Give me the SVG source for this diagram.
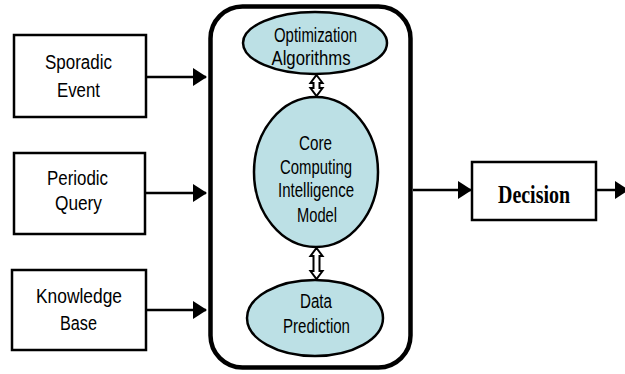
<svg xmlns="http://www.w3.org/2000/svg" width="625" height="374" viewBox="0 0 625 374">
  <defs>
    <marker id="head" markerWidth="14" markerHeight="18" refX="13" refY="9" orient="auto" markerUnits="userSpaceOnUse">
      <path d="M0,0 L14,9 L0,18 Z" fill="#000"/>
    </marker>
    <style>
      .box { fill: #fff; stroke: #000; stroke-width: 2.5; }
      .bubble { fill: #bce0e5; stroke: #000; stroke-width: 2.5; }
      .lbl { font-family: "Liberation Sans", Arial, sans-serif; font-size: 20px; fill: #000; text-anchor: middle; }
      .edge { stroke: #000; stroke-width: 2.5; fill: none; marker-end: url(#head); }
      .dbl { fill: #fff; stroke: #000; stroke-width: 2; stroke-linejoin: miter; }
    </style>
  </defs>
  <rect width="625" height="374" fill="#fff"/>

  <!-- input sources -->
  <g id="sporadic">
    <rect class="box" x="14" y="35" width="132" height="82"/>
    <text class="lbl" x="78.5" y="69" textLength="67" lengthAdjust="spacingAndGlyphs">Sporadic</text>
    <text class="lbl" x="78.5" y="97" textLength="43" lengthAdjust="spacingAndGlyphs">Event</text>
  </g>
  <g id="periodic">
    <rect class="box" x="14" y="153" width="131" height="81"/>
    <text class="lbl" x="77.5" y="185" textLength="61" lengthAdjust="spacingAndGlyphs">Periodic</text>
    <text class="lbl" x="78.5" y="210" textLength="47" lengthAdjust="spacingAndGlyphs">Query</text>
  </g>
  <g id="knowledge">
    <rect class="box" x="12" y="270" width="134" height="80"/>
    <text class="lbl" x="79" y="303" textLength="86" lengthAdjust="spacingAndGlyphs">Knowledge</text>
    <text class="lbl" x="78.5" y="330" textLength="37" lengthAdjust="spacingAndGlyphs">Base</text>
  </g>

  <!-- processing container -->
  <g id="engine">
    <rect x="210.5" y="6.5" width="200" height="361" rx="32" ry="32" fill="#fff" stroke="#000" stroke-width="4.5"/>
  </g>
  <g id="optimization">
    <ellipse class="bubble" cx="315" cy="43" rx="72" ry="31"/>
    <text class="lbl" x="315.5" y="42" textLength="83" lengthAdjust="spacingAndGlyphs">Optimization</text>
    <text class="lbl" x="311" y="65" textLength="79" lengthAdjust="spacingAndGlyphs">Algorithms</text>
  </g>
  <g id="core">
    <ellipse class="bubble" cx="316" cy="172" rx="62" ry="75"/>
    <text class="lbl" x="315.5" y="150" textLength="33" lengthAdjust="spacingAndGlyphs">Core</text>
    <text class="lbl" x="316" y="174" textLength="72" lengthAdjust="spacingAndGlyphs">Computing</text>
    <text class="lbl" x="316" y="197" textLength="76" lengthAdjust="spacingAndGlyphs">Intelligence</text>
    <text class="lbl" x="317" y="222" textLength="40" lengthAdjust="spacingAndGlyphs">Model</text>
  </g>
  <g id="prediction">
    <ellipse class="bubble" cx="315" cy="318" rx="68" ry="38"/>
    <text class="lbl" x="316" y="308" textLength="32" lengthAdjust="spacingAndGlyphs">Data</text>
    <text class="lbl" x="316.5" y="333" textLength="67" lengthAdjust="spacingAndGlyphs">Prediction</text>
  </g>

  <g id="decision">
    <rect class="box" x="472" y="162" width="124" height="58"/>
    <text x="534" y="203" font-family="'Liberation Serif', 'Times New Roman', serif" font-size="25" font-weight="bold" text-anchor="middle" textLength="72" lengthAdjust="spacingAndGlyphs">Decision</text>
  </g>

  <!-- connectors -->
  <g id="connectors">
    <line class="edge" x1="146" y1="77" x2="206" y2="77"/>
    <line class="edge" x1="145" y1="193" x2="206" y2="193"/>
    <line class="edge" x1="146" y1="310" x2="206" y2="310"/>
    <line class="edge" x1="413" y1="190" x2="471" y2="190"/>
    <line class="edge" x1="596" y1="190" x2="628" y2="190"/>
    <!-- hollow two-way links inside the container -->
    <path class="dbl" d="M316.5,75 L322.5,83 L319.5,83 L319.5,88 L322.5,88 L316.5,96 L310.5,88 L313.5,88 L313.5,83 L310.5,83 Z"/>
    <path class="dbl" d="M316.5,248 L322.5,256 L319.5,256 L319.5,271 L322.5,271 L316.5,279 L310.5,271 L313.5,271 L313.5,256 L310.5,256 Z"/>
  </g>
</svg>
